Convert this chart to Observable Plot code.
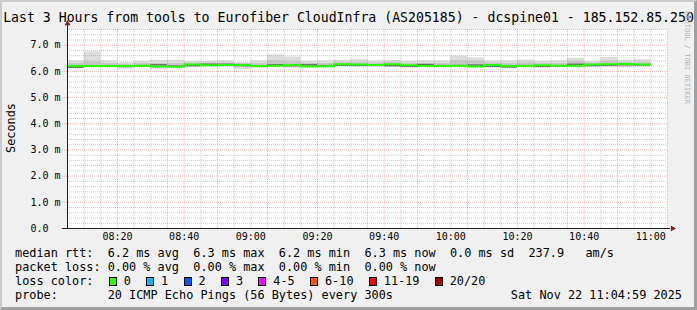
<!DOCTYPE html>
<html><head><meta charset="utf-8">
<script src="https://cdn.jsdelivr.net/npm/d3@7"></script>
<script src="https://cdn.jsdelivr.net/npm/@observablehq/plot@0.6"></script>
<style>
html,body{margin:0;padding:0;background:#f0f0f0;}
#wrap{position:relative;width:697px;height:310px;overflow:hidden;background:#f0f0f0;font-family:"DejaVu Sans Mono",monospace;color:#000;}
#frame{position:absolute;left:0;top:0;width:697px;height:310px;box-sizing:border-box;border-top:2px solid #cbcbcb;border-left:2px solid #cbcbcb;border-right:3px solid #a0a0a0;border-bottom:3px solid #a0a0a0;pointer-events:none;}
#title{position:absolute;left:0;top:10.4px;width:697px;text-align:center;font-size:13.2px;line-height:16px;white-space:pre;}
#chart{position:absolute;left:0;top:18px;}
#ylab{position:absolute;left:-39.5px;top:120.5px;width:100px;height:14px;line-height:14px;text-align:center;font-size:11.85px;transform:rotate(-90deg);}
#wm{position:absolute;left:636px;top:53px;width:100px;height:9px;line-height:9px;text-align:center;font-size:7px;color:#b4b4b4;transform:rotate(90deg);white-space:pre;}
#legend{position:absolute;left:15px;top:246.2px;font-size:11.85px;line-height:14px;white-space:pre;}
.sq{display:inline-block;width:8px;height:9px;box-sizing:border-box;border:1px solid #000;vertical-align:-1px;margin-left:1px;margin-right:7px;}
#date{position:absolute;right:15px;top:288.2px;font-size:11.85px;line-height:14px;white-space:pre;}
</style></head>
<body>
<div id="wrap">
  <div id="title">Last 3 Hours from tools to Eurofiber CloudInfra (AS205185) - dcspine01 - 185.152.85.250</div>
  <div id="chart"></div>
  <div id="ylab">Seconds</div>
  <div id="wm">RRDTOOL / TOBI OETIKER</div>
  <div id="legend"></div>
  <div id="date">Sat Nov 22 11:04:59 2025</div>
  <div id="frame"></div>
</div>
<script>
// ---- data (ms) ----
const times = ["08:05","08:10","08:15","08:20","08:25","08:30","08:35","08:40","08:45","08:50",
  "08:55","09:00","09:05","09:10","09:15","09:20","09:25","09:30","09:35","09:40",
  "09:45","09:50","09:55","10:00","10:05","10:10","10:15","10:20","10:25","10:30",
  "10:35","10:40","10:45","10:50","10:55"];
const median = [6.21,6.21,6.21,6.21,6.22,6.19,6.18,6.26,6.23,6.24,
  6.24,6.21,6.22,6.24,6.19,6.20,6.27,6.26,6.24,6.27,
  6.23,6.21,6.21,6.22,6.19,6.24,6.21,6.21,6.23,6.22,
  6.22,6.26,6.27,6.28,6.26];
const smokeMax = [6.40,6.75,6.40,6.35,6.38,6.42,6.42,6.38,6.38,6.40,
  6.35,6.40,6.63,6.55,6.38,6.40,6.42,6.45,6.40,6.42,
  6.38,6.40,6.40,6.58,6.52,6.40,6.40,6.43,6.38,6.40,
  6.50,6.38,6.53,6.42,6.45];
const smokeMin = [6.14,6.15,6.15,6.08,6.16,6.07,6.10,6.17,6.17,6.17,
  6.07,6.16,6.15,6.12,6.15,6.14,6.18,6.18,6.16,6.16,
  6.15,6.14,6.16,6.14,6.15,6.15,6.14,6.14,6.15,6.15,
  6.14,6.15,6.16,6.14,6.17];
const bandHi = [6.30,6.36,6.30,6.27,6.30,6.30,6.30,6.32,6.32,6.32,
  6.30,6.30,6.40,6.36,6.30,6.30,6.33,6.34,6.32,6.34,
  6.30,6.30,6.30,6.40,6.38,6.32,6.30,6.33,6.30,6.30,
  6.38,6.32,6.38,6.33,6.34];
const bandLo = [6.17,6.18,6.18,6.16,6.19,6.14,6.14,6.20,6.19,6.20,
  6.18,6.18,6.18,6.18,6.17,6.17,6.20,6.20,6.19,6.20,
  6.18,6.17,6.18,6.18,6.17,6.18,6.17,6.18,6.18,6.18,
  6.18,6.19,6.20,6.19,6.20];
const core = [6.16,6.20,6.20,6.19,6.21,6.25,6.20,6.22,6.27,6.27,
  6.22,6.19,6.25,6.22,6.25,6.22,6.24,6.23,6.24,6.22,
  6.19,6.26,6.22,6.22,6.24,6.20,6.17,6.22,6.19,6.21,
  6.27,6.23,6.24,6.26,6.25];
const xStart = "08:05", xEnd = "11:05", stepMin = 5;
const xTickLabels = ["08:20","08:40","09:00","09:20","09:40","10:00","10:20","10:40","11:00"];
const yTickValues = [0,1,2,3,4,5,6,7];
const yTickLabels = ["0.0","1.0 m","2.0 m","3.0 m","4.0 m","5.0 m","6.0 m","7.0 m"];
const yMax = 7.6;
const lossLabels = ["0","1","2","3","4-5","6-10","11-19","20/20"];
const lossColors = ["#26ff00","#00b8ff","#0059ff","#7e00ff","#ff00ff","#ff5500","#ff0000","#a10000"];

// ---- build ----
const toMin = s => { const [h,m] = s.split(":").map(Number); return h*60+m; };
const x0 = toMin(xStart), x1 = toMin(xEnd);
const data = times.map((t,i) => ({t0: toMin(t), t1: toMin(t)+stepMin, med: median[i],
  max: smokeMax[i], min: smokeMin[i], hi: bandHi[i], lo: bandLo[i], core: core[i]}));
const stepPts = data.map(d => ({t: d.t0, v: d.med}));
stepPts.push({t: data[data.length-1].t1, v: data[data.length-1].med});
const xTickMins = xTickLabels.map(toMin);
const labelMap = new Map(xTickMins.map((m,i)=>[m, xTickLabels[i]]));
const minorX = d3.range(x0+stepMin, x1+0.1, stepMin).filter(m => !labelMap.has(m));
const minorY = d3.range(1, Math.floor(yMax*5)+1).filter(i => i%5 !== 0).map(i => i/5);
const majorY = yTickValues.filter(v => v > 0);
const GRID = "rgba(143,143,143,0.46)", MGRID = "rgba(222,80,80,0.40)";

const chart = Plot.plot({
  width: 697, height: 230, marginLeft: 67, marginRight: 30, marginTop: 11, marginBottom: 20,
  style: {background: "transparent", fontFamily: '"DejaVu Sans Mono", monospace', fontSize: "10px", color: "#000", overflow: "visible"},
  x: {domain: [x0, x1], axis: null},
  y: {domain: [0, yMax], axis: null},
  marks: [
    Plot.frame({fill: "white", stroke: "none"}),
    Plot.rect(data, {x1: "t0", x2: "t1", y1: "min", y2: "max", fill: "#dddddd"}),
    Plot.rect(data, {x1: "t0", x2: "t1", y1: "lo", y2: "hi", fill: "#c6c6c6"}),
    Plot.ruleY(data, {x1: "t0", x2: "t1", y: "core", stroke: "#6a6a6a", strokeWidth: 1.5}),
    Plot.ruleX(minorX, {stroke: GRID, strokeDasharray: "1,1"}),
    Plot.ruleY(minorY, {stroke: GRID, strokeDasharray: "1,1"}),
    Plot.ruleX(xTickMins, {stroke: MGRID, strokeDasharray: "1,1"}),
    Plot.ruleY(majorY, {stroke: MGRID, strokeDasharray: "1,1", insetLeft: -5}),
    Plot.line(stepPts, {x: "t", y: "v", curve: "step-after", stroke: "#26ff00", strokeWidth: 2}),
    Plot.ruleX([x0], {stroke: "#1f1f1f", insetTop: -7}),
    Plot.ruleY([0], {stroke: "#1f1f1f", insetLeft: -5, insetRight: -3}),
    Plot.dot([{x: x0, y: yMax}], {x: "x", y: "y", symbol: "triangle", r: 2.2, fill: "#7f1f1f", stroke: "none", dy: -6}),
    Plot.dot([{x: x1, y: 0}], {x: "x", y: "y", symbol: "triangle", r: 2.2, fill: "#7f1f1f", stroke: "none", rotate: 90, dx: 5}),
    Plot.text(yTickValues, {y: d => d, text: (d, i) => yTickLabels[i], frameAnchor: "left", textAnchor: "start", dx: -37, fill: "#000"}),
    Plot.axisX(xTickMins, {tickSize: 0, tickPadding: 4, tickFormat: d => labelMap.get(d), label: null, fill: "#000"})
  ]
});
document.getElementById("chart").appendChild(chart);

// legend
const leg = document.getElementById("legend");
const row1 = "median rtt:  6.2 ms avg  6.3 ms max  6.2 ms min  6.3 ms now  0.0 ms sd  237.9   am/s";
const row2 = "packet loss: 0.00 % avg  0.00 % max  0.00 % min  0.00 % now";
let row3 = "loss color:  ";
lossLabels.forEach((l, i) => {
  row3 += `<span class="sq" style="background:${lossColors[i]}"></span>${l}` + (i < lossLabels.length-1 ? "  " : "");
});
const row4 = "probe:       20 ICMP Echo Pings (56 Bytes) every 300s";
leg.innerHTML = [row1, row2, row3, row4].map(r => `<div>${r}</div>`).join("");
</script>
</body></html>
